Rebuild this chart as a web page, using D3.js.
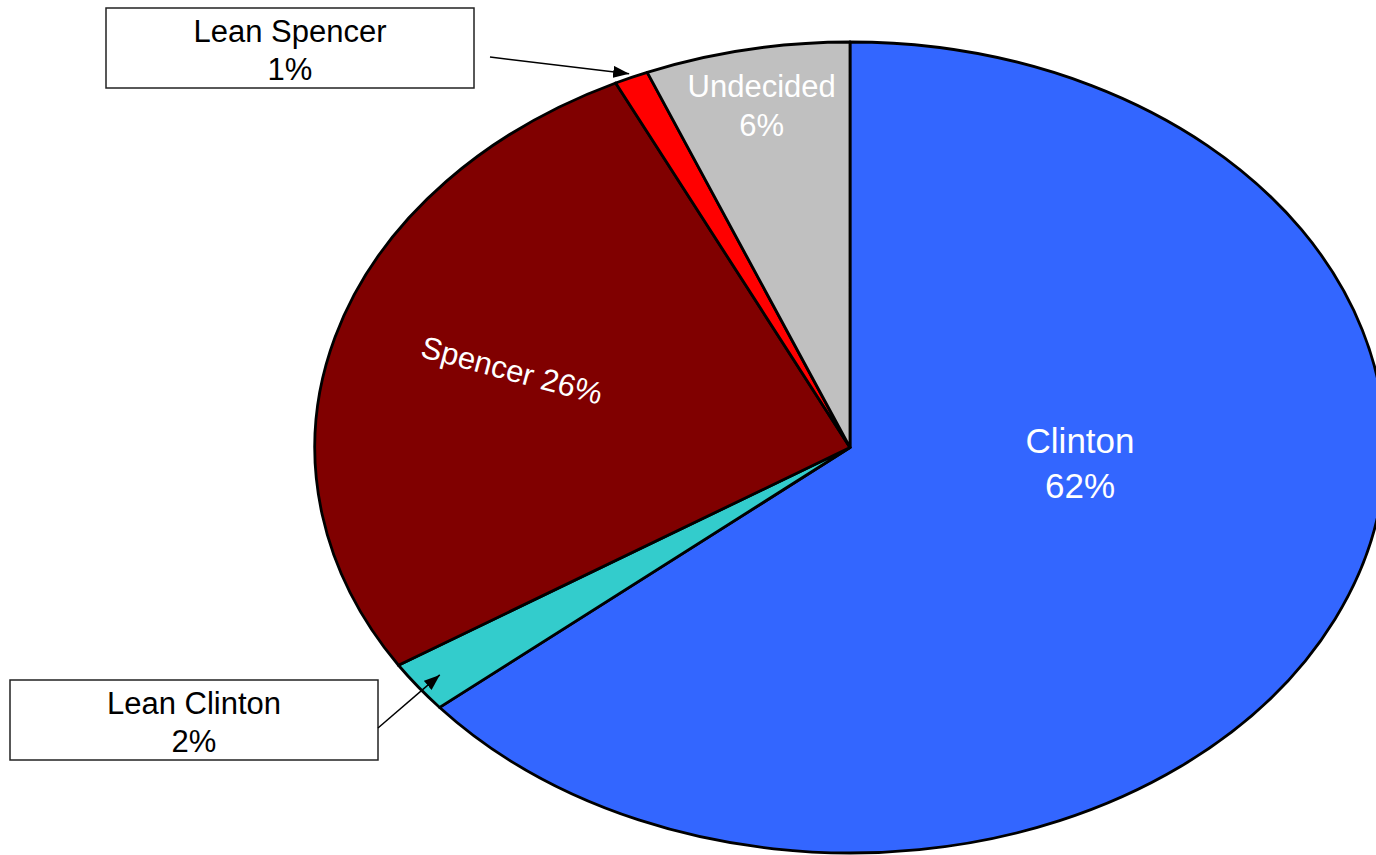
<!DOCTYPE html>
<html><head><meta charset="utf-8">
<script src="https://cdn.jsdelivr.net/npm/d3@7"></script>
<style>html,body{margin:0;padding:0;background:#fff;}svg{display:block;font-family:"Liberation Sans",Arial,sans-serif;}</style>
</head><body>
<script>
const categories = ["Clinton", "Lean Clinton", "Spencer", "Lean Spencer", "Undecided"];
const values = [62, 2, 26, 1, 6];
const colors = ["#3366FF", "#33CCCC", "#800000", "#FF0000", "#C0C0C0"];
const labelText = ["Clinton\n62%", "Lean Clinton\n2%", "Spencer 26%", "Lean Spencer\n1%", "Undecided\n6%"];

const W = 1376, H = 855;
const cx = 850, cy = 447.5, rx = 535, ry = 405.5;

const svg = d3.select("body").append("svg").attr("width", W).attr("height", H);
svg.append("defs").append("marker")
  .attr("id", "arr").attr("viewBox", "0 0 10 10").attr("refX", 10).attr("refY", 5)
  .attr("markerWidth", 16).attr("markerHeight", 12).attr("markerUnits", "userSpaceOnUse")
  .attr("orient", "auto").attr("preserveAspectRatio", "none")
  .append("path").attr("d", "M0,0L10,5L0,10Z").attr("fill", "#000");

const data = categories.map((c, i) => ({ name: c, value: values[i], color: colors[i], label: labelText[i] }));
const pie = d3.pie().sort(null).value(d => d.value);
const arcs = pie(data);
const arc = d3.arc().innerRadius(0).outerRadius(1);

const g = svg.append("g").attr("transform", `translate(${cx},${cy}) scale(${rx},${ry})`);
g.selectAll("path").data(arcs).join("path")
  .attr("d", arc)
  .attr("fill", d => d.data.color)
  .attr("stroke", "#000")
  .attr("stroke-width", 2.8)
  .attr("stroke-linejoin", "round")
  .attr("vector-effect", "non-scaling-stroke");

function ep(a, k) { return [cx + Math.sin(a) * rx * k, cy - Math.cos(a) * ry * k]; }

function multiline(sel, text, x, y, lh, size, fill) {
  const t = sel.append("text").attr("x", x).attr("y", y).attr("text-anchor", "middle")
    .attr("font-size", size).attr("fill", fill);
  text.split("\n").forEach((s, i) => t.append("tspan").attr("x", x).attr("y", y + i * lh).text(s));
  return t;
}

multiline(svg, arcs[0].data.label, cx + 0.43 * rx, cy + 0.014 * ry, 45, 35, "#fff");
multiline(svg, arcs[4].data.label, cx - 0.165 * rx, cy - 0.864 * ry, 39, 31, "#fff");
svg.append("text")
  .attr("transform", `translate(${cx - 0.632 * rx},${cy - 0.19 * ry}) rotate(15)`)
  .attr("text-anchor", "middle").attr("dominant-baseline", "central")
  .attr("font-size", 31).attr("fill", "#fff").text(arcs[2].data.label);

function callout(d, box, from, to) {
  svg.append("rect").attr("x", box[0]).attr("y", box[1]).attr("width", box[2]).attr("height", box[3])
    .attr("fill", "#fff").attr("stroke", "#222").attr("stroke-width", 1.5);
  multiline(svg, d.data.label, box[0] + box[2] / 2, box[1] + 34, 38, 31, "#000");
  svg.append("line").attr("x1", from[0]).attr("y1", from[1]).attr("x2", to[0]).attr("y2", to[1])
    .attr("stroke", "#000").attr("stroke-width", 1.5).attr("marker-end", "url(#arr)");
}
const midLS = (arcs[3].startAngle + arcs[3].endAngle) / 2;
const midLC = (arcs[1].startAngle + arcs[1].endAngle) / 2;
callout(arcs[3], [106, 8, 368, 80], [490, 57], ep(midLS, 1.01));
callout(arcs[1], [10, 680, 368, 80], [378, 728], ep(midLC, 0.95));
</script>
</body></html>
